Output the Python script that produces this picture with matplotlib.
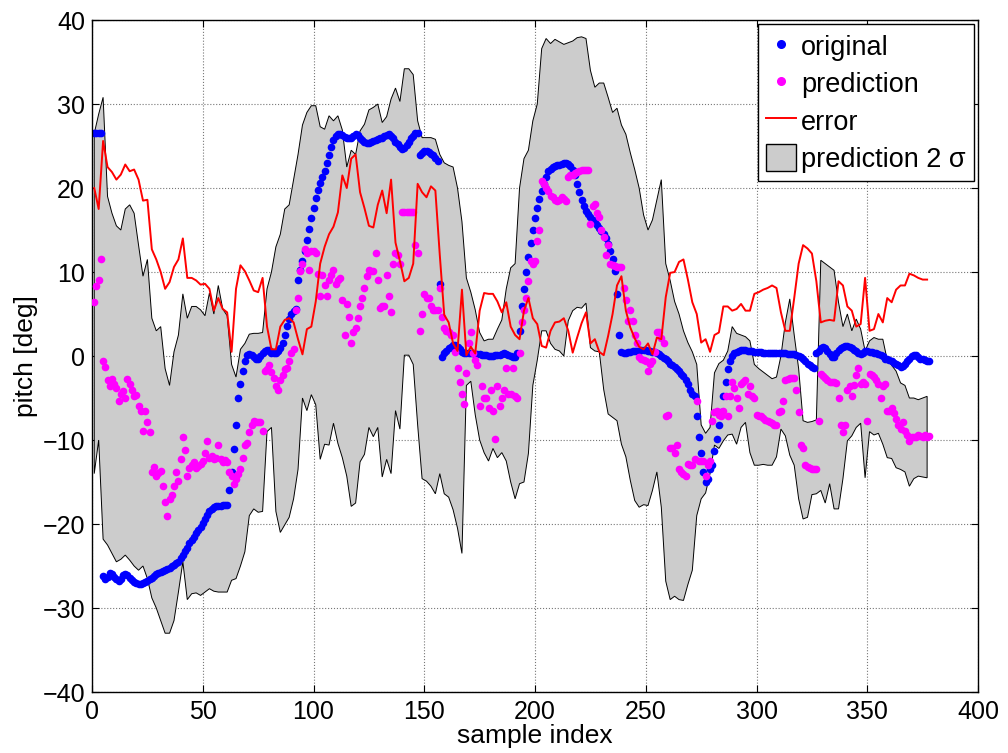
import numpy as np
import matplotlib
matplotlib.use("Agg")
import matplotlib.pyplot as plt
from matplotlib.lines import Line2D
from matplotlib.patches import Patch

# original pitch, one value per sample (n = 1..378)
original = [
    26.5, 26.6, 26.6, 26.5, -26.2, -26.6, -26.3, -25.8, -25.9, -26.3,
    -26.5, -26.8, -26.6, -26.1, -25.9, -26.1, -26.4, -26.7, -26.9, -27.0,
    -27.1, -27.2, -27.0, -26.9, -26.8, -26.6, -26.4, -26.2, -26.0, -25.8,
    -25.7, -25.6, -25.5, -25.4, -25.2, -25.0, -24.9, -24.7, -24.5, -24.1,
    -23.7, -23.2, -22.8, -22.3, -21.9, -21.5, -21.1, -20.7, -20.3, -19.9,
    -19.4, -18.9, -18.5, -18.2, -18.0, -17.9, -17.8, -17.8, -17.7, -17.7,
    -17.7, -16.0, -13.8, -11.1, -8.2, -5.0, -3.3, -1.8, -0.6, 0.1,
    0.2, 0.1, -0.1, -0.3, -0.4, 0.0, 0.4, 0.6, 0.7, 0.7,
    0.4, 0.3, 0.4, 0.6, 0.9, 1.5, 2.5, 3.6, 4.4, 5.0,
    5.4, 5.6, 9.1, 10.2, 11.3, 12.5, 13.8, 15.1, 16.4, 17.6,
    18.8, 19.8, 20.6, 21.3, 22.0, 23.0, 23.9, 24.9, 25.7, 26.2,
    26.4, 26.4, 26.3, 26.1, 25.9, 25.9, 26.0, 26.2, 26.4, 26.3,
    26.0, 25.7, 25.5, 25.4, 25.4, 25.5, 25.6, 25.7, 25.8, 25.9,
    26.0, 26.2, 26.3, 26.4, 26.2, 25.9, 25.5, 25.2, 24.9, 24.7,
    24.8, 25.1, 25.5, 25.9, 26.2, 26.5, 26.6, 23.9, 24.2, 24.4,
    24.4, 24.3, 24.1, 23.9, 23.6, 23.2, 8.6, -0.1, 0.3, 0.6,
    0.9, 1.1, 1.3, 1.3, 1.1, 0.8, 0.5, 0.3, 0.3, 0.3,
    0.3, 0.3, 0.2, 0.2, 0.2, 0.1, 0.1, 0.1, 0.0, 0.0,
    0.0, 0.1, 0.1, 0.1, 0.2, 0.3, 0.2, 0.1, 0.0, -0.1,
    -0.1, 0.3, 3.0, 6.0, 8.0, 10.0, 11.8, 13.5, 15.0, 16.4,
    17.6, 18.7, 19.6, 20.5, 21.3, 22.0, 22.3, 22.5, 22.6, 22.7,
    22.8, 22.9, 23.0, 23.0, 22.9, 22.6, 22.2, 21.5, 20.5, 19.5,
    18.6, 17.9, 17.3, 16.9, 16.5, 16.2, 15.9, 15.6, 15.3, 14.9,
    14.5, 14.0, 13.3, 12.5, 11.5, 10.1, 7.4, 2.5, 0.5, 0.4,
    0.4, 0.5, 0.5, 0.6, 0.6, 0.6, 0.6, 0.7, 0.7, 0.7,
    0.6, 0.6, 0.5, 0.5, 0.4, 0.2, 0.0, -0.2, -0.4, -0.6,
    -0.9, -1.1, -1.3, -1.5, -1.8, -2.1, -2.4, -2.8, -3.3, -4.0,
    -4.5, -4.8, -7.2, -9.6, -11.6, -13.8, -15.0, -14.7, -13.5, -13.0,
    -11.3, -9.9, -8.2, -6.7, -4.8, -3.1, -1.6, -0.6, 0.0, 0.3,
    0.5, 0.6, 0.7, 0.7, 0.7, 0.6, 0.6, 0.6, 0.5, 0.5,
    0.5, 0.5, 0.4, 0.4, 0.4, 0.4, 0.3, 0.3, 0.3, 0.3,
    0.3, 0.3, 0.3, 0.2, 0.2, 0.2, 0.2, 0.1, 0.0, -0.1,
    -0.3, -0.6, -0.9, -1.1, -1.3, -1.4, 0.3, 0.6, 0.9, 1.1,
    1.0, 0.6, 0.2, -0.1, -0.1, 0.3, 0.7, 1.0, 1.1, 1.2,
    1.2, 1.1, 0.9, 0.7, 0.6, 0.3, 0.2, 0.4, 0.6, 0.6,
    0.5, 0.5, 0.4, 0.3, 0.2, 0.1, 0.0, -0.3, -0.4, -0.5,
    -0.6, -0.8, -1.0, -1.1, -1.3, -1.2, -0.9, -0.6, -0.3, 0.0,
    0.1, 0.1, -0.1, -0.3, -0.4, -0.5, -0.6, -0.6,
]

# GP prediction, one value per sample
prediction = [
    6.4, 8.3, 9.1, 11.6, -0.6, -1.3, -2.8, -3.6, -2.7, -3.3,
    -3.8, -5.4, -4.5, -4.2, -5.0, -2.7, -3.3, -4.0, -4.8, -4.6,
    -6.0, -6.5, -8.9, -6.5, -7.8, -9.0, -13.8, -13.2, -14.3, -13.9,
    -13.7, -15.5, -17.4, -19.1, -17.0, -16.5, -15.5, -13.8, -14.9, -12.3,
    -9.6, -11.2, -14.3, -13.3, -13.0, -12.6, -13.3, -13.1, -12.9, -12.5,
    -11.6, -10.1, -12.1, -11.9, -12.3, -12.1, -10.6, -12.3, -12.6, -12.4,
    -12.6, -13.8, -14.3, -15.2, -14.6, -14.0, -13.5, -12.1, -10.6, -10.4,
    -9.1, -8.2, -7.7, -7.9, -7.8, -7.9, -8.9, -1.8, -1.5, -1.1,
    -1.9, -2.6, -3.6, -4.0, -2.9, -2.3, -1.6, -1.4, -0.6, 0.3,
    0.8, 5.5, 6.9, 10.1, 11.0, 12.8, 12.3, 10.3, 12.5, 12.5,
    12.3, 9.8, 7.2, 9.6, 8.4, 7.2, 9.1, 9.6, 10.3, 8.6,
    9.0, 9.3, 6.7, 2.5, 6.2, 4.7, 1.6, 2.8, 3.3, 4.5,
    5.9, 6.9, 8.1, 9.5, 10.3, 10.1, 10.1, 12.3, 9.0, 5.7,
    6.0, 5.9, 9.6, 7.2, 5.2, 11.0, 12.3, 12.0, 11.0, 17.1,
    17.1, 17.1, 17.1, 17.1, 17.1, 13.2, 12.3, 3.0, 5.0, 7.4,
    6.9, 6.9, 6.0, 5.5, 5.5, 5.5, 8.1, 4.7, 3.3, 3.0,
    2.8, 2.5, 2.5, 0.5, -1.4, -3.1, -4.5, -5.7, -2.0, 1.6,
    2.8, 0.3, -0.5, -1.1, -6.0, -3.6, -5.0, -5.0, -6.2, -4.0,
    -6.5, -9.9, -3.6, -6.0, -5.0, -4.0, -1.4, -4.5, -4.5, -1.4,
    -4.8, -5.0, 0.3, 4.0, 5.5, 6.9, 8.9, 11.3, 11.0, 11.3,
    13.7, 15.0, 20.8, 20.5, 20.0, 19.6, 19.1, 18.9, 18.6, 18.4,
    18.6, 18.9, 18.7, 18.4, 21.3, 21.5, 21.6, 21.8, 21.9, 22.0,
    22.1, 22.2, 22.2, 22.2, 15.7, 17.9, 18.1, 17.0, 16.6, 15.0,
    14.2, 12.0, 13.2, 11.0, 10.8, 10.7, 10.6, 10.6, 10.6, 8.1,
    6.7, 4.2, 5.5, 4.2, 2.5, 1.6, -0.1, -0.4, -0.5, -0.6,
    -1.8, -0.9, -0.6, 0.5, 2.8, 2.8, 2.2, 1.6, -7.2, -7.0,
    -10.9, -10.9, -11.6, -10.6, -13.5, -13.8, -14.0, -14.3, -12.8, -13.0,
    -13.0, -12.3, -5.3, -12.5, -12.5, -12.5, -14.3, -13.0, -12.5, -7.7,
    -6.7, -6.5, -7.0, -7.2, -6.5, -4.8, -7.2, -4.8, -3.1, -3.8,
    -5.0, -6.2, -3.3, -3.1, -2.8, -4.5, -3.6, -4.8, -5.0, -7.0,
    -7.1, -7.2, -7.4, -7.6, -7.7, -7.9, -8.0, -8.2, -8.2, -6.7,
    -6.5, -5.3, -2.8, -2.7, -2.6, -2.6, -2.6, -4.0, -6.7, -10.6,
    -10.9, -13.0, -13.2, -13.3, -13.5, -13.4, -13.4, -7.7, -2.1, -2.4,
    -2.6, -2.8, -3.1, -3.1, -3.1, -3.2, -5.0, -8.2, -9.1, -8.2,
    -4.0, -3.6, -4.8, -3.5, -2.3, -1.4, -3.3, -3.1, -3.3, -7.7,
    -2.1, -2.3, -2.5, -2.8, -3.3, -5.0, -3.6, -3.3, -6.5, -6.5,
    -6.2, -6.8, -7.5, -8.2, -8.7, -7.9, -8.9, -9.4, -10.1, -9.6,
    -9.6, -9.6, -9.4, -9.5, -9.6, -9.4, -9.6, -9.5,
]

# prediction +/- 2 sigma band and error, every second sample (n = 1, 3, ..., 377)
band_upper = [
    26.5, 28.8, 30.8, 19.0, 17.0, 15.5, 15.0, 17.5, 18.0, 17.0,
    13.2, 9.5, 11.5, 4.5, 3.0, 3.5, -1.5, -3.5, 0.5, 2.5,
    7.4, 4.5, 5.9, 5.9, 5.5,
    4.8, 7.5, 5.0, 8.4, 5.6, 4.8, -1.0, -2.5, 0.8, 1.5,
    2.6, 2.7, 2.7, 2.8, 8.0, 10.0, 13.0, 14.5, 17.5, 18.0,
    21.0, 24.0, 27.5, 29.0,
    29.8, 29.8, 27.3, 27.0, 28.6, 28.0, 28.6, 26.9, 22.5, 24.5,
    24.0, 26.8, 27.6, 29.3, 29.6, 30.0, 27.8, 28.5, 30.6, 31.9,
    30.3, 34.2, 34.2, 33.5, 28.0,
    26.0, 26.0, 26.0, 25.8, 24.0, 23.0, 22.7, 22.5, 20.0, 16.0,
    9.3, 7.6, 5.5, 2.8, 1.8, 2.0, 2.0, 3.2, 4.3, 8.0,
    10.5, 11.0, 20.0, 23.5, 24.5,
    28.0, 30.0, 36.6, 37.8, 37.2, 37.7, 37.4, 37.1, 37.3, 37.5,
    37.9, 38.0, 37.8, 34.0, 32.0, 32.5, 32.5, 30.8, 29.0, 29.5,
    27.5, 26.4, 24.2, 22.2, 20.0,
    16.8, 15.0, 16.2, 18.6, 21.0, 11.0, 9.0, 6.5, 5.0, 3.0,
    1.6, 0.5, -1.0, -8.2, -9.2, -8.5, -2.0, -0.9, -0.5, 0.6,
    3.5, 2.7, 2.5, 2.3,
    1.8, -1.0, -1.5, -1.9, -2.3, -2.7, -2.5, 0.0, 4.0, 6.8,
    2.5, -1.5, -7.7, -7.9, -7.8, -7.6, 11.4, 11.0, 10.6, 10.2,
    6.4, 3.5, 5.0, 3.0, 4.4,
    3.2, 0.6, 1.8, 2.2, 2.0, 2.0, -0.5, -1.1, -1.8, -3.2,
    -3.5, -5.0, -5.0, -5.2, -5.0, -4.8,
]

band_lower = [
    -14.0, -10.0, -21.8, -22.5, -23.5, -24.5, -24.2, -23.7, -24.3, -25.0,
    -25.5, -25.0, -26.5, -28.8, -30.0, -31.5, -33.0, -33.0, -31.5, -28.1,
    -24.5, -29.0, -28.3, -28.2, -28.5,
    -28.1, -27.7, -28.0, -28.1, -28.1, -28.1, -26.7, -26.5, -25.0, -23.3,
    -19.0, -18.2, -18.6, -18.5, -9.0, -8.5, -18.5, -21.0, -20.1, -19.2,
    -17.0, -13.5, -5.0, -6.5,
    -4.6, -5.8, -12.3, -10.5, -10.6, -8.0, -10.4, -12.1, -14.3, -17.9,
    -17.5, -12.6, -11.7, -8.5, -9.6, -8.5, -14.4, -12.3, -14.0, -6.5,
    -8.7, 0.1, 0.1, -1.0, -8.2,
    -14.6, -14.9, -15.5, -16.4, -14.0, -16.4, -16.8, -18.3, -20.5, -23.5,
    -3.5, -3.0, -7.0, -10.0, -11.5, -12.5, -11.0, -12.1, -11.5, -12.5,
    -15.0, -17.0, -15.2, -15.0, -11.6,
    -3.5, -0.5, 3.0, 3.0, 1.5, 0.8, 0.6, 0.0, 4.2, 5.4,
    5.8, 5.7, 6.3, 1.0, 0.6, 0.5, -4.0, -6.9, -7.3, -7.7,
    -10.5, -12.0, -14.8, -17.2, -18.0,
    -17.7, -17.8, -16.0, -13.8, -18.0, -26.8, -29.0, -28.6, -29.0, -29.1,
    -27.2, -25.5, -19.0, -17.0, -16.3, -14.0, -10.6, -11.0, -10.1, -9.4,
    -9.3, -10.5, -8.5, -7.9,
    -11.5, -13.0, -13.0, -12.9, -13.0, -13.0, -12.0, -8.7, -9.5, -11.8,
    -13.0, -17.0, -19.4, -19.2, -16.5, -16.4, -16.0, -17.5, -15.2, -18.2,
    -18.2, -14.6, -10.1, -9.5, -8.5,
    -8.0, -14.5, -9.0, -9.4, -9.2, -10.5, -12.1, -12.2, -13.3, -13.5,
    -13.8, -15.5, -14.6, -14.3, -14.4, -14.5,
]

error = [
    20.0, 17.5, 25.6, 22.5, 21.9, 21.0, 21.6, 22.8, 22.0, 22.2,
    21.0, 18.5, 18.6, 12.7, 11.5, 10.0, 8.0, 8.8, 10.6, 11.5,
    14.0, 9.3, 9.3, 9.0, 8.5,
    8.6, 8.0, 5.4, 6.9, 5.6, 5.2, 0.5, 8.0, 10.8, 10.1,
    9.0, 7.8, 7.6, 9.3, 3.5, 0.8, 0.8, 3.5, 4.3, 4.5,
    4.0, 2.0, 0.2, 3.2,
    3.5, 6.5, 11.0, 13.0, 14.5, 15.4, 17.1, 21.5, 20.0, 23.5,
    24.0, 19.5, 17.6, 15.5, 15.3, 18.0, 19.7, 17.0, 21.0, 13.5,
    11.3, 8.9, 9.3, 11.0, 20.5,
    19.5, 18.9, 20.2, 19.7, 12.0, 4.9, 4.0, 1.5, 0.6, 7.9,
    0.1, 1.1, 0.3, 5.4, 7.5, 7.4, 7.4, 6.5, 5.2, 6.4,
    3.5, 2.5, 2.0, 5.4, 6.9,
    4.5, 3.8, 1.2, 1.0, 3.0, 4.0, 4.1, 4.5, 3.0, 0.4,
    2.2, 3.9, 5.2, 1.5, 2.0, 0.5, 0.1, 2.4, 5.0, 8.4,
    9.5, 5.4, 3.4, 2.1, 1.1,
    0.8, 1.5, 0.2, 2.2, 2.0, 7.0, 9.9, 10.0, 11.2, 11.5,
    9.1, 6.4, 5.0, 1.6, 2.0, 0.5, 2.5, 2.8, 5.9, 5.9,
    5.4, 5.6, 6.2, 5.4,
    5.4, 7.4, 7.6, 7.9, 8.1, 8.4, 8.1, 5.2, 3.0, 3.0,
    6.9, 11.0, 13.2, 12.8, 12.2, 8.9, 4.0, 4.2, 4.3, 4.2,
    8.9, 8.4, 5.9, 5.4, 3.5,
    3.8, 9.3, 3.0, 3.2, 5.0, 4.0, 6.9, 6.4, 7.9, 8.4,
    8.4, 9.8, 9.6, 9.3, 9.1, 9.1,
]

plt.rcParams['font.family'] = ['Liberation Sans', 'DejaVu Sans']

n = np.arange(1, len(original) + 1)
n_pred = np.arange(1, len(prediction) + 1)
n_up = np.arange(1, 2 * len(band_upper), 2)
n_lo = np.arange(1, 2 * len(band_lower), 2)
n_err = np.arange(1, 2 * len(error), 2)

fig = plt.figure(figsize=(10.08, 7.53), dpi=100)
ax = fig.add_axes([0.0913, 0.081, 0.879, 0.8924])

# 2 sigma band as a closed polygon
poly_x = np.concatenate([n_up, n_lo[::-1]])
poly_y = np.concatenate([band_upper, band_lower[::-1]])
ax.fill(poly_x, poly_y, facecolor=(0.8, 0.8, 0.8), edgecolor='black', linewidth=0.7, zorder=1)

ax.plot(n, original, 'o', color='#0000ff', markersize=5.5, markeredgewidth=0, zorder=2)
ax.plot(n_pred, prediction, 'o', color='#ff00ff', markersize=5.5, markeredgewidth=0, zorder=3)
ax.plot(n_err, error, '-', color='#ff0000', linewidth=1.4, zorder=4)

ax.set_xlim(0, 400)
ax.set_ylim(-40, 40)
ax.set_xticks(np.arange(0, 401, 50))
ax.set_yticks(np.arange(-40, 41, 10))
ax.grid(True, linestyle=':', color='#777777', linewidth=0.8)
ax.set_axisbelow(True)
ax.tick_params(direction='in', top=True, right=True, length=5, labelsize=18)
ax.tick_params(axis='x', pad=6)
ax.tick_params(axis='y', pad=5)
for s in ax.spines.values():
    s.set_linewidth(1.0)

ax.set_xlabel('sample index', fontsize=19, labelpad=0)
ax.set_ylabel('pitch [deg]', fontsize=19, labelpad=3)

handles = [
    Line2D([], [], marker='o', linestyle='none', color='#0000ff', markersize=5.5),
    Line2D([], [], marker='o', linestyle='none', color='#ff00ff', markersize=5.5),
    Line2D([], [], color='#ff0000', linewidth=1.4),
    Patch(facecolor=(0.8, 0.8, 0.8), edgecolor='black'),
]
labels = ['original', 'prediction', 'error', 'prediction 2 \u03c3']
leg = ax.legend(handles, labels, loc='upper right', fontsize=19.5, fancybox=False,
                framealpha=1, edgecolor='black', borderaxespad=0.15,
                handlelength=1.1, handleheight=1.2, handletextpad=0.2,
                labelspacing=0.3, borderpad=0.3)
leg.get_frame().set_linewidth(1.0)

fig.savefig('out.png', dpi=100)
